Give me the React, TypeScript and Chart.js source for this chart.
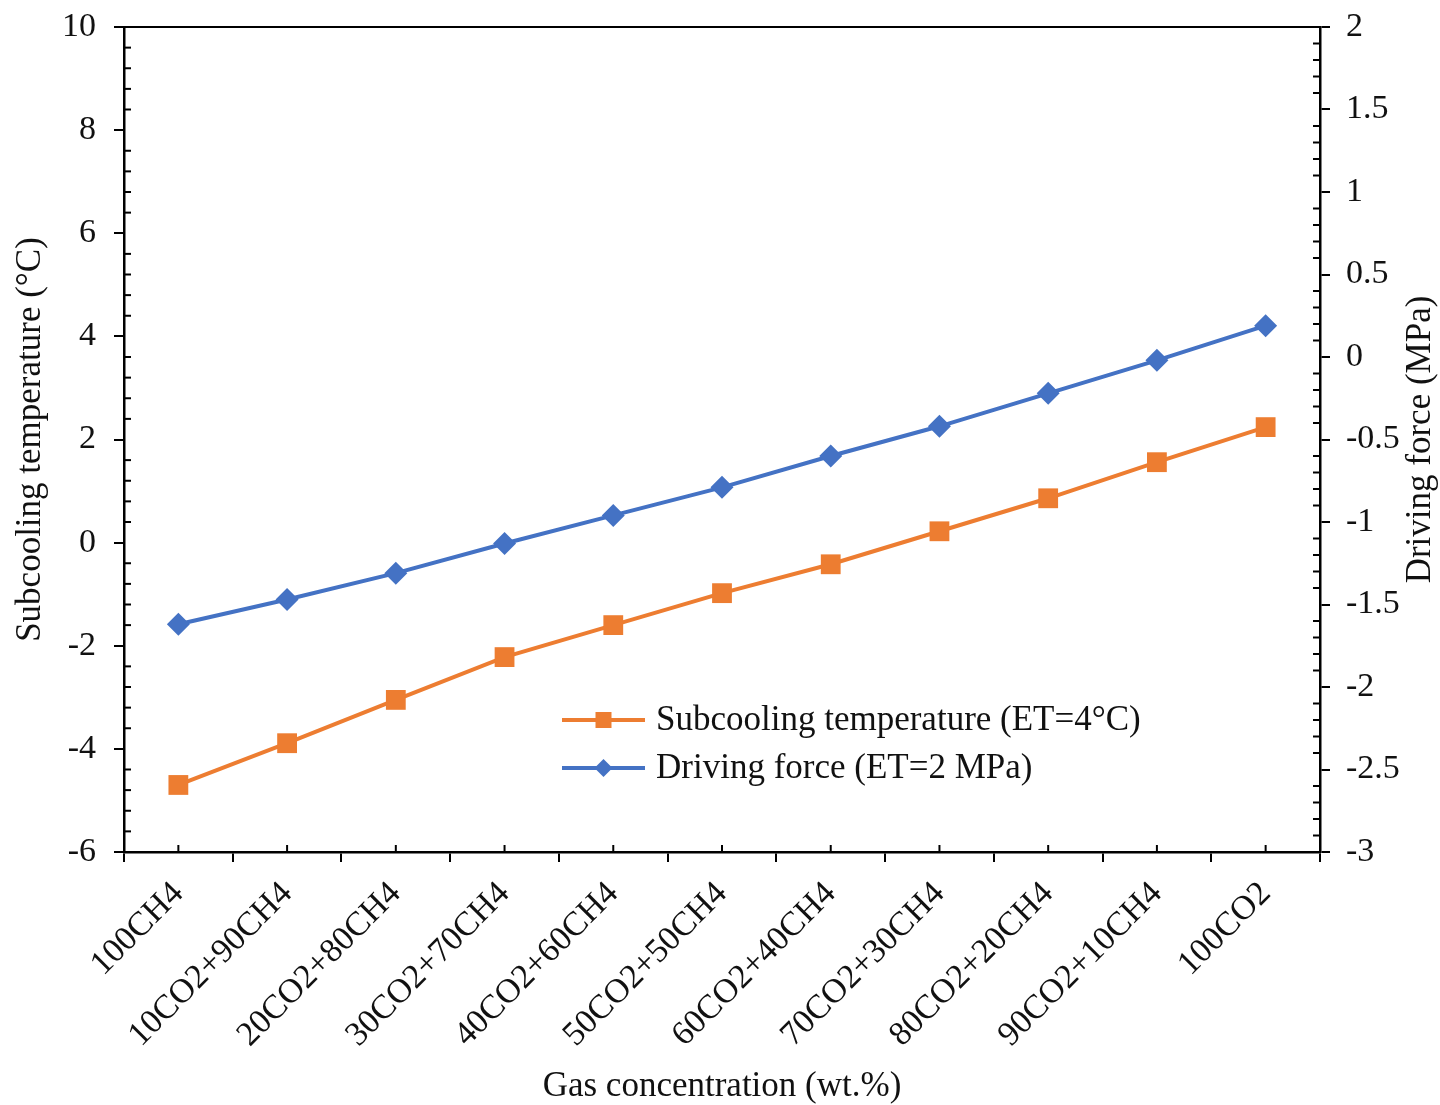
import React, { useEffect, useRef } from 'react';
import { Chart, registerables } from 'chart.js';

Chart.register(...registerables);

const categories = [
  '100CH4',
  '10CO2+90CH4',
  '20CO2+80CH4',
  '30CO2+70CH4',
  '40CO2+60CH4',
  '50CO2+50CH4',
  '60CO2+40CH4',
  '70CO2+30CH4',
  '80CO2+20CH4',
  '90CO2+10CH4',
  '100CO2',
];

const subcoolingTemp = [-4.7, -3.89, -3.05, -2.22, -1.6, -0.98, -0.42, 0.22, 0.86, 1.56, 2.24];
const drivingForce = [-1.62, -1.47, -1.31, -1.13, -0.96, -0.79, -0.6, -0.42, -0.22, -0.02, 0.19];

const seriesLabels = ['Subcooling temperature (ET=4°C)', 'Driving force (ET=2 MPa)'];
const xTitle = 'Gas concentration (wt.%)';
const yLeftTitle = 'Subcooling temperature (°C)';
const yRightTitle = 'Driving force (MPa)';

const yLeftMin = -6;
const yLeftMax = 10;
const yLeftStep = 2;
const yRightMin = -3;
const yRightMax = 2;
const yRightStep = 0.5;

const FONT = "'Liberation Serif', 'Times New Roman', serif";
const ORANGE = '#ED7D31';
const BLUE = '#4472C4';
const INK = '#111';

const fmt = (v: any) => String(Number(Number(v).toFixed(2)));

const decorPlugin = {
  id: 'decor',
  afterDraw(chart: any) {
    const { ctx, chartArea } = chart;
    const { left, right, top, bottom } = chartArea;
    ctx.save();
    // top border
    ctx.strokeStyle = '#000';
    ctx.lineWidth = 2;
    ctx.beginPath();
    ctx.moveTo(left - 1, top);
    ctx.lineTo(right + 1, top);
    ctx.stroke();

    // minor inward ticks
    ctx.lineWidth = 2;
    const yL = chart.scales.y;
    const nL = Math.round((yLeftMax - yLeftMin) / (yLeftStep / 5));
    for (let i = 1; i < nL; i++) {
      if (i % 5 === 0) continue;
      const py = yL.getPixelForValue(yLeftMin + i * (yLeftStep / 5));
      ctx.beginPath();
      ctx.moveTo(left, py);
      ctx.lineTo(left + 7, py);
      ctx.stroke();
    }
    const yR = chart.scales.y1;
    const nR = Math.round((yRightMax - yRightMin) / (yRightStep / 5));
    for (let i = 1; i < nR; i++) {
      if (i % 5 === 0) continue;
      const py = yR.getPixelForValue(yRightMin + i * (yRightStep / 5));
      ctx.beginPath();
      ctx.moveTo(right, py);
      ctx.lineTo(right - 7, py);
      ctx.stroke();
    }
    const xs = chart.scales.x;
    for (let i = 0; i < categories.length; i++) {
      const px = xs.getPixelForValue(i);
      ctx.beginPath();
      ctx.moveTo(px, bottom);
      ctx.lineTo(px, bottom - 7);
      ctx.stroke();
    }

    // axis titles
    ctx.fillStyle = INK;
    ctx.font = `35px ${FONT}`;
    ctx.textAlign = 'center';
    ctx.textBaseline = 'middle';
    ctx.fillText(xTitle, (left + right) / 2, 1087);
    ctx.save();
    ctx.translate(31, (top + bottom) / 2);
    ctx.rotate(-Math.PI / 2);
    ctx.fillText(yLeftTitle, 0, 0);
    ctx.restore();
    ctx.save();
    ctx.translate(1421, (top + bottom) / 2);
    ctx.rotate(-Math.PI / 2);
    ctx.fillText(yRightTitle, 0, 0);
    ctx.restore();

    // legend inside plot
    const lx0 = 562;
    const lx1 = 645;
    const rows = [720, 768];
    chart.data.datasets.forEach((ds: any, i: number) => {
      const y = rows[i];
      ctx.strokeStyle = ds.borderColor;
      ctx.lineWidth = 4;
      ctx.beginPath();
      ctx.moveTo(lx0, y);
      ctx.lineTo(lx1, y);
      ctx.stroke();
      ctx.fillStyle = ds.pointBackgroundColor;
      ctx.beginPath();
      if (ds.pointStyle === 'rect') {
        ctx.rect((lx0 + lx1) / 2 - 8, y - 8, 16, 16);
      } else {
        const r = 9;
        const cx = (lx0 + lx1) / 2;
        ctx.moveTo(cx - r, y);
        ctx.lineTo(cx, y - r);
        ctx.lineTo(cx + r, y);
        ctx.lineTo(cx, y + r);
        ctx.closePath();
      }
      ctx.fill();
      ctx.fillStyle = INK;
      ctx.textAlign = 'left';
      ctx.textBaseline = 'middle';
      ctx.font = `35px ${FONT}`;
      ctx.fillText(ds.label, 656, y + 1);
    });
    ctx.restore();
  },
};

export default function App() {
  const canvasRef = useRef<HTMLCanvasElement | null>(null);

  useEffect(() => {
    const canvas = canvasRef.current;
    if (!canvas) return;
    const tickFont = { family: FONT, size: 34 };
    const chart = new Chart(canvas, {
      type: 'line',
      data: {
        labels: categories,
        datasets: [
          {
            label: seriesLabels[0],
            data: subcoolingTemp,
            yAxisID: 'y',
            borderColor: ORANGE,
            backgroundColor: ORANGE,
            pointBackgroundColor: ORANGE,
            pointBorderColor: ORANGE,
            pointStyle: 'rect',
            pointRadius: 14,
            pointBorderWidth: 0,
            borderWidth: 4,
            tension: 0,
          },
          {
            label: seriesLabels[1],
            data: drivingForce,
            yAxisID: 'y1',
            borderColor: BLUE,
            backgroundColor: BLUE,
            pointBackgroundColor: BLUE,
            pointBorderColor: BLUE,
            pointStyle: 'rectRot',
            pointRadius: 11.5,
            pointBorderWidth: 0,
            borderWidth: 4,
            tension: 0,
          },
        ],
      },
      options: {
        responsive: true,
        maintainAspectRatio: false,
        animation: false,
        layout: { padding: { top: 27, left: 0, right: 0, bottom: 0 } },
        plugins: {
          legend: { display: false },
          tooltip: { enabled: false },
        },
        scales: {
          x: {
            type: 'category',
            offset: true,
            grid: {
              offset: true,
              display: true,
              drawOnChartArea: false,
              drawTicks: true,
              tickLength: 10,
              color: '#000',
              lineWidth: 2,
            },
            border: { display: true, color: '#000', width: 2.5 },
            ticks: {
              autoSkip: false,
              maxRotation: 45,
              minRotation: 45,
              font: tickFont,
              color: INK,
              padding: 12,
            },
            afterFit: (scale: any) => {
              scale.height = 253;
              scale.paddingLeft = 0;
              scale.paddingRight = 0;
            },
          },
          y: {
            type: 'linear',
            position: 'left',
            min: yLeftMin,
            max: yLeftMax,
            ticks: {
              stepSize: yLeftStep,
              font: tickFont,
              color: INK,
              padding: 18,
              callback: fmt,
            },
            grid: {
              display: true,
              drawOnChartArea: false,
              drawTicks: true,
              tickLength: 10,
              color: '#000',
              lineWidth: 2,
            },
            border: { display: true, color: '#000', width: 2.5 },
            afterFit: (scale: any) => {
              scale.width = 124;
              scale.paddingTop = 0;
              scale.paddingBottom = 0;
            },
          },
          y1: {
            type: 'linear',
            position: 'right',
            min: yRightMin,
            max: yRightMax,
            ticks: {
              stepSize: yRightStep,
              font: tickFont,
              color: INK,
              padding: 16,
              callback: fmt,
            },
            grid: {
              display: true,
              drawOnChartArea: false,
              drawTicks: true,
              tickLength: 10,
              color: '#000',
              lineWidth: 2,
            },
            border: { display: true, color: '#000', width: 2.5 },
            afterFit: (scale: any) => {
              scale.width = 120;
              scale.paddingTop = 0;
              scale.paddingBottom = 0;
            },
          },
        },
      },
      plugins: [decorPlugin],
    });
    return () => {
      chart.destroy();
    };
  }, []);

  return (
    <div style={{ position: 'absolute', left: 0, top: 0, width: 1440, height: 1105, background: '#fff' }}>
      <canvas ref={canvasRef} />
    </div>
  );
}
